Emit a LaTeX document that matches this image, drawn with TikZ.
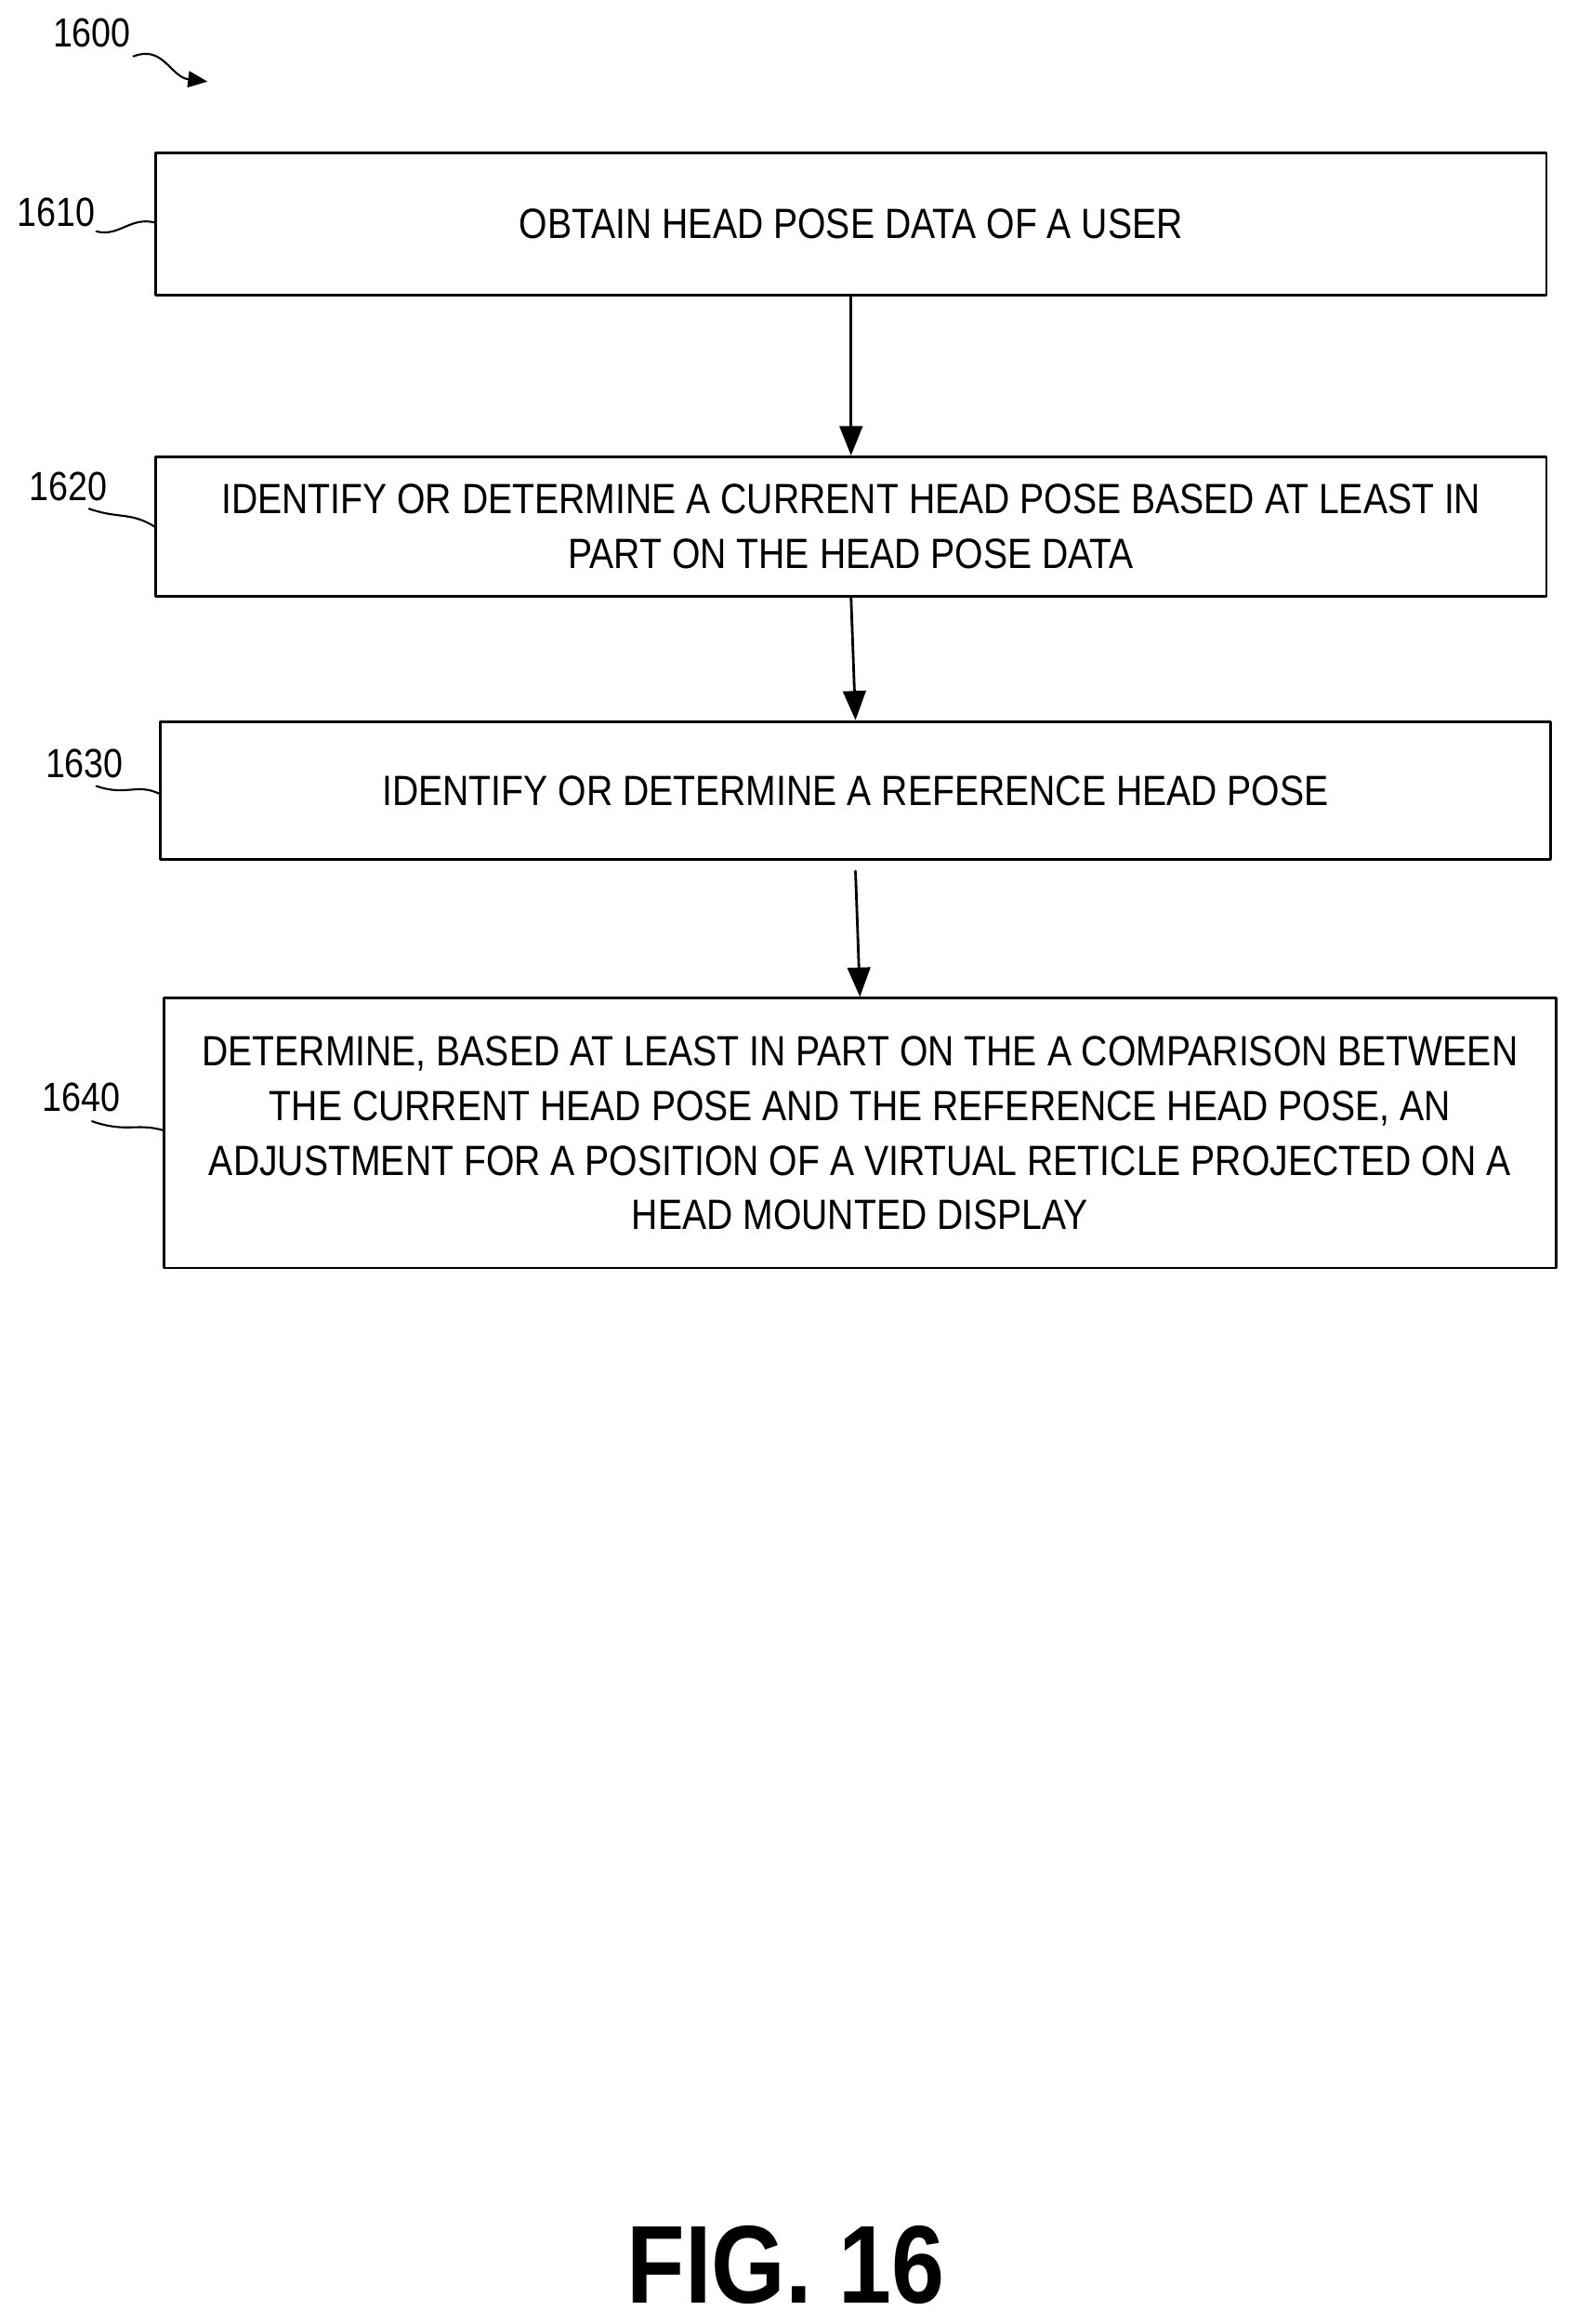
\documentclass[tikz,border=0pt]{standalone}
\usepackage{fontspec}
\setmainfont[FakeStretch=0.86]{Liberation Sans}
\usetikzlibrary{arrows.meta}
\tikzset{
  stepbox/.style={draw,line width=0.8pt,inner sep=0pt,align=center,font=\fontsize{13}{16.8}\selectfont},
  flow/.style={-{Triangle[length=9pt,width=7pt]},line width=0.8pt},
  lead/.style={line width=0.6pt},
  refnum/.style={font=\fontsize{12.5}{14}\selectfont}
}
\begin{document}
\begin{tikzpicture}[x=0.016cm,y=-0.016cm,line cap=round,line join=round]
        \useasboundingbox (0,0) rectangle (1064,1567);

        \node[stepbox,minimum width=938*0.016cm,minimum height=96*0.016cm] (b1610) at (574,151) {OBTAIN HEAD POSE DATA OF A USER};
        \node[stepbox,minimum width=938*0.016cm,minimum height=94*0.016cm] (b1620) at (574,355) {IDENTIFY OR DETERMINE A CURRENT HEAD POSE BASED AT LEAST IN\\PART ON THE HEAD POSE DATA};
        \node[stepbox,minimum width=938*0.016cm,minimum height=93*0.016cm] (b1630) at (577,533) {IDENTIFY OR DETERMINE A REFERENCE HEAD POSE};
        \node[stepbox,minimum width=939*0.016cm,minimum height=182*0.016cm] (b1640) at (580,764) {DETERMINE, BASED AT LEAST IN PART ON THE A COMPARISON BETWEEN\\THE CURRENT HEAD POSE AND THE REFERENCE HEAD POSE, AN\\ADJUSTMENT FOR A POSITION OF A VIRTUAL RETICLE PROJECTED ON A\\HEAD MOUNTED DISPLAY};

        \draw[flow] (b1610.south) -- (b1620.north);
        \draw[flow] (b1620.south) -- (b1630.north);
        \draw[flow] (b1630.south) ++(0,7) coordinate (c1) (c1) -- (b1640.north);

        % reference numerals
        \node[refnum] (n1600) at (62,22) {1600};
        \node[refnum] (n1610) at (38,143) {1610};
        \node[refnum] (n1620) at (46,328) {1620};
        \node[refnum] (n1630) at (57,515) {1630};
        \node[refnum] (n1640) at (55,740) {1640};

        \coordinate (t1600) at (140,55);
        \draw[lead,-{Triangle[length=6pt,width=5pt]}] (90,38) .. controls (110,30) and (115,52) .. (t1600);
        \draw[lead] (65,156) .. controls (80,160) and (88,146) .. (b1610.west |- 0,150);
        \draw[lead] (60,343) .. controls (80,350) and (88,345) .. (b1620.west |- 0,355);
        \draw[lead] (65,530) .. controls (85,537) and (92,528) .. (b1630.west |- 0,535);
        \draw[lead] (62,756) .. controls (85,764) and (92,757) .. (b1640.west |- 0,762);

        \node[font=\bfseries\fontsize{34}{38}\selectfont] (fig) at (530,1527) {FIG. 16};
\end{tikzpicture}
\end{document}
